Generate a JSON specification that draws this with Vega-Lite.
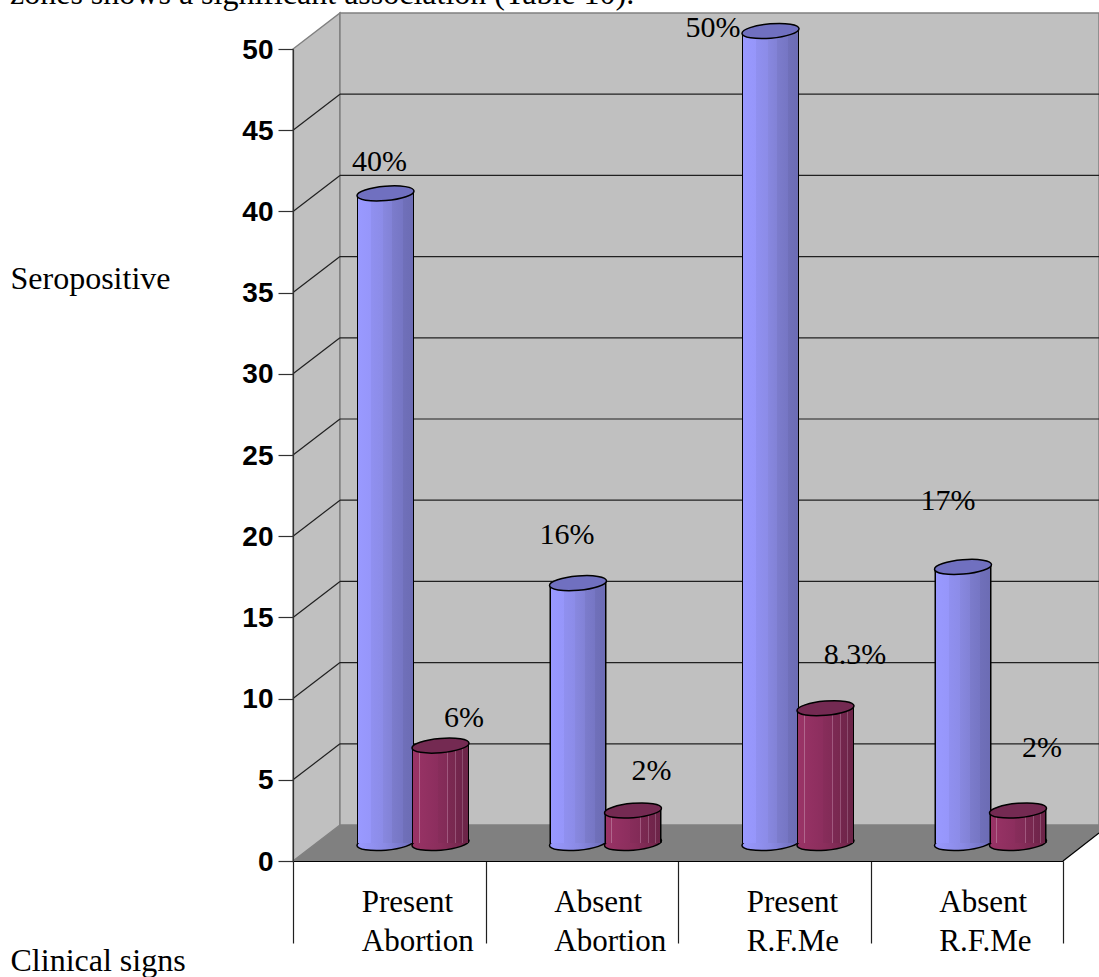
{
  "$schema": "https://vega.github.io/schema/vega-lite/v6.json",
  "autosize": "none",
  "padding": {"left": 293, "top": 49, "right": 36, "bottom": 116},
  "width": 770,
  "height": 812,
  "background": "white",
  "title": {
    "text": "zones shows a significant association (Table 10).",
    "anchor": "start",
    "frame": "group",
    "font": "Liberation Serif",
    "fontSize": 32,
    "fontWeight": "normal",
    "color": "black",
    "baseline": "alphabetic",
    "offset": 9,
    "dx": -283,
    "dy": 35
  },
  "datasets": {
    "rates": [
      {"sign": "Present Abortion", "series": "A", "value": 40, "label": "40%"},
      {"sign": "Present Abortion", "series": "B", "value": 6, "label": "6%"},
      {"sign": "Absent Abortion", "series": "A", "value": 16, "label": "16%"},
      {"sign": "Absent Abortion", "series": "B", "value": 2, "label": "2%"},
      {"sign": "Present R.F.Me", "series": "A", "value": 50, "label": "50%"},
      {"sign": "Present R.F.Me", "series": "B", "value": 8.3, "label": "8.3%"},
      {"sign": "Absent R.F.Me", "series": "A", "value": 17, "label": "17%"},
      {"sign": "Absent R.F.Me", "series": "B", "value": 2, "label": "2%"}
    ],
    "ticks": [{"t": 5}, {"t": 10}, {"t": 15}, {"t": 20}, {"t": 25}, {"t": 30}, {"t": 35}, {"t": 40}, {"t": 45}]
  },
  "layer": [
    {
      "layer": [
        {
          "data": {"values": [
            {"c": 0, "lo": 0, "hi": 50},
            {"c": 0.244, "lo": 2.217, "hi": 52.217}
          ]},
          "mark": {"type": "area", "fill": "#c0c0c0", "stroke": "#808080", "strokeWidth": 1.5},
          "encoding": {
            "x": {"field": "c", "type": "quantitative", "scale": {"domain": [0, 4], "nice": false, "zero": false}, "axis": null},
            "y": {
              "field": "lo",
              "type": "quantitative",
              "scale": {"domain": [0, 50], "nice": false},
              "axis": {
                "values": [0, 5, 10, 15, 20, 25, 30, 35, 40, 45, 50],
                "grid": false,
                "domain": true,
                "domainColor": "#303030",
                "domainWidth": 1.2,
                "tickColor": "#303030",
                "tickSize": 15,
                "tickWidth": 1.2,
                "labelFont": "Liberation Sans",
                "labelFontWeight": "bold",
                "labelFontSize": 28,
                "labelColor": "black",
                "labelPadding": 5,
                "labelOffset": 1,
                "title": "Seropositive",
                "titleFont": "Liberation Serif",
                "titleFontSize": 32,
                "titleFontWeight": "normal",
                "titleColor": "black",
                "titleAngle": 0,
                "titleAlign": "left",
                "titleBaseline": "alphabetic",
                "titleX": -283,
                "titleY": 239,
                "zindex": 1
              }
            },
            "y2": {"field": "hi"}
          }
        },
        {
          "data": {"values": [
            {"c": 0.244, "lo": 2.217, "hi": 52.217},
            {"c": 4.187, "lo": 2.217, "hi": 52.217}
          ]},
          "mark": {"type": "area", "fill": "#c0c0c0", "stroke": "#808080", "strokeWidth": 1.5},
          "encoding": {
            "x": {"field": "c", "type": "quantitative"},
            "y": {"field": "lo", "type": "quantitative"},
            "y2": {"field": "hi"}
          }
        },
        {
          "data": {"values": [
            {"c": 0, "lo": 0, "hi": 0},
            {"c": 0.244, "lo": 0, "hi": 2.217},
            {"c": 4, "lo": 0, "hi": 2.217},
            {"c": 4.187, "lo": 1.72, "hi": 2.217}
          ]},
          "mark": {"type": "area", "fill": "#808080"},
          "encoding": {
            "x": {"field": "c", "type": "quantitative"},
            "y": {"field": "lo", "type": "quantitative"},
            "y2": {"field": "hi"}
          }
        },
        {
          "data": {"name": "ticks"},
          "mark": {"type": "rule", "color": "#202020", "strokeWidth": 1.2, "yOffset": -36, "y2Offset": -36},
          "encoding": {
            "x": {"datum": 0.244, "type": "quantitative"},
            "x2": {"datum": 4.187},
            "y": {"field": "t", "type": "quantitative"},
            "y2": {"field": "t"}
          }
        },
        {
          "data": {"name": "ticks"},
          "mark": {"type": "rule", "color": "#202020", "strokeWidth": 1.2, "y2Offset": -36},
          "encoding": {
            "x": {"datum": 0, "type": "quantitative"},
            "x2": {"datum": 0.244},
            "y": {"field": "t", "type": "quantitative"},
            "y2": {"field": "t"}
          }
        },
        {
          "data": {"values": [{"a": 4, "b": 4.187, "lo": 0, "hi": 1.72}]},
          "mark": {"type": "rule", "color": "black", "strokeWidth": 1.2},
          "encoding": {
            "x": {"field": "a", "type": "quantitative"},
            "x2": {"field": "b"},
            "y": {"field": "lo", "type": "quantitative"},
            "y2": {"field": "hi"}
          }
        }
      ]
    },
    {
      "data": {"name": "rates"},
      "encoding": {
        "x": {
          "field": "sign",
          "type": "nominal",
          "sort": null,
          "scale": {"paddingInner": 0, "paddingOuter": 0},
          "axis": {
            "orient": "bottom",
            "labelAngle": 0,
            "labelExpr": "split(datum.label, ' ')",
            "labelFont": "Liberation Serif",
            "labelFontSize": 31,
            "labelColor": "black",
            "labelLineHeight": 39,
            "labelPadding": -56,
            "labelAlign": "left",
            "labelOffset": -28,
            "tickBand": "extent",
            "tickSize": 82,
            "tickColor": "#202020",
            "tickWidth": 1.2,
            "domainColor": "black",
            "domainWidth": 1.2,
            "grid": false,
            "title": "Clinical signs",
            "titleFont": "Liberation Serif",
            "titleFontSize": 32,
            "titleFontWeight": "normal",
            "titleColor": "black",
            "titleAnchor": "start",
            "titleAlign": "left",
            "titleBaseline": "alphabetic",
            "titleX": -283,
            "titleY": 109,
            "zindex": 1
          }
        },
        "xOffset": {
          "field": "series",
          "type": "nominal",
          "scale": {"type": "point", "padding": 0, "domain": ["A", "B"], "range": [92.5, 147.5]}
        },
        "y": {"field": "value", "type": "quantitative"}
      },
      "layer": [
        {
          "mark": {"type": "point", "filled": true, "opacity": 1, "size": 3249, "shape": "M-1,0.085A1,0.25 -5 1,1 1,-0.085A1,0.25 -5 1,1 -1,0.085Z", "stroke": "black", "strokeWidth": 1.5, "yOffset": -18},
          "encoding": {
            "y": {"datum": 0, "type": "quantitative"},
            "fill": {
              "condition": {"test": "datum.series === 'A'", "value": {"x1": 0, "x2": 1, "y1": 0, "y2": 0, "gradient": "linear", "stops": [{"offset": 0, "color": "#9999ff"}, {"offset": 0.5, "color": "#8a8ae4"}, {"offset": 1, "color": "#6c6cb8"}]}},
              "value": {"x1": 0, "x2": 1, "y1": 0, "y2": 0, "gradient": "linear", "stops": [{"offset": 0, "color": "#993366"}, {"offset": 0.5, "color": "#8a2e5c"}, {"offset": 1, "color": "#6e2549"}]}
            }
          }
        },
        {
          "mark": {"type": "bar", "width": 57, "yOffset": -20.4, "y2Offset": -18, "cornerRadiusTopLeft": 6},
          "encoding": {
            "y2": {"datum": 0},
            "fill": {
              "condition": {"test": "datum.series === 'A'", "value": {"x1": 0, "x2": 1, "y1": 0, "y2": 0, "gradient": "linear", "stops": [
                {"offset": 0, "color": "black"}, {"offset": 0.025, "color": "black"},
                {"offset": 0.025, "color": "#9999ff"}, {"offset": 0.25, "color": "#9696fa"},
                {"offset": 0.25, "color": "#9090f0"}, {"offset": 0.45, "color": "#8c8ce8"},
                {"offset": 0.45, "color": "#8888e0"}, {"offset": 0.62, "color": "#8282d6"},
                {"offset": 0.62, "color": "#7c7ccc"}, {"offset": 0.8, "color": "#7676c4"},
                {"offset": 0.8, "color": "#7070ba"}, {"offset": 0.975, "color": "#6c6cb4"},
                {"offset": 0.975, "color": "black"}, {"offset": 1, "color": "black"}
              ]}},
              "value": {"x1": 0, "x2": 1, "y1": 0, "y2": 0, "gradient": "linear", "stops": [
                {"offset": 0, "color": "black"}, {"offset": 0.025, "color": "black"},
                {"offset": 0.025, "color": "#993366"}, {"offset": 0.12, "color": "#983365"},
                {"offset": 0.12, "color": "#b0668c"}, {"offset": 0.135, "color": "#b0668c"},
                {"offset": 0.135, "color": "#963264"}, {"offset": 0.45, "color": "#8c2e5e"},
                {"offset": 0.45, "color": "#882d5b"}, {"offset": 0.62, "color": "#822b57"},
                {"offset": 0.62, "color": "#a0587e"}, {"offset": 0.635, "color": "#a0587e"},
                {"offset": 0.635, "color": "#7c2953"}, {"offset": 0.76, "color": "#78284f"},
                {"offset": 0.76, "color": "#955276"}, {"offset": 0.775, "color": "#955276"},
                {"offset": 0.775, "color": "#74264d"}, {"offset": 0.88, "color": "#70254b"},
                {"offset": 0.88, "color": "#8c4d6f"}, {"offset": 0.895, "color": "#8c4d6f"},
                {"offset": 0.895, "color": "#6e2549"}, {"offset": 0.975, "color": "#6c2448"},
                {"offset": 0.975, "color": "black"}, {"offset": 1, "color": "black"}
              ]}
            }
          }
        },
        {
          "mark": {"type": "point", "filled": true, "opacity": 1, "size": 3249, "shape": "M-1,0.085A1,0.25 -5 1,1 1,-0.085A1,0.25 -5 1,1 -1,0.085Z", "stroke": "black", "strokeWidth": 1.5, "yOffset": -18},
          "encoding": {
            "fill": {"field": "series", "type": "nominal", "legend": null, "scale": {"domain": ["A", "B"], "range": ["#7070c0", "#742a52"]}}
          }
        },
        {
          "transform": [{"filter": "datum.sign === 'Present Abortion' && datum.series === 'A'"}],
          "mark": {"type": "text", "font": "Liberation Serif", "fontSize": 30, "color": "black", "baseline": "middle", "dx": -6, "dy": -49},
          "encoding": {"text": {"field": "label"}}
        },
        {
          "transform": [{"filter": "datum.sign === 'Present Abortion' && datum.series === 'B'"}],
          "mark": {"type": "text", "font": "Liberation Serif", "fontSize": 30, "color": "black", "baseline": "middle", "dx": 23.5, "dy": -45.5},
          "encoding": {"text": {"field": "label"}}
        },
        {
          "transform": [{"filter": "datum.sign === 'Absent Abortion' && datum.series === 'A'"}],
          "mark": {"type": "text", "font": "Liberation Serif", "fontSize": 30, "color": "black", "baseline": "middle", "dx": -11, "dy": -66},
          "encoding": {"text": {"field": "label"}}
        },
        {
          "transform": [{"filter": "datum.sign === 'Absent Abortion' && datum.series === 'B'"}],
          "mark": {"type": "text", "font": "Liberation Serif", "fontSize": 30, "color": "black", "baseline": "middle", "dx": 18.5, "dy": -57.5},
          "encoding": {"text": {"field": "label"}}
        },
        {
          "transform": [{"filter": "datum.sign === 'Present R.F.Me' && datum.series === 'A'"}],
          "mark": {"type": "text", "font": "Liberation Serif", "fontSize": 30, "color": "black", "baseline": "middle", "dx": -57.5, "dy": -21},
          "encoding": {"text": {"field": "label"}}
        },
        {
          "transform": [{"filter": "datum.sign === 'Present R.F.Me' && datum.series === 'B'"}],
          "mark": {"type": "text", "font": "Liberation Serif", "fontSize": 30, "color": "black", "baseline": "middle", "dx": 29.5, "dy": -71},
          "encoding": {"text": {"field": "label"}}
        },
        {
          "transform": [{"filter": "datum.sign === 'Absent R.F.Me' && datum.series === 'A'"}],
          "mark": {"type": "text", "font": "Liberation Serif", "fontSize": 30, "color": "black", "baseline": "middle", "dx": -15, "dy": -84},
          "encoding": {"text": {"field": "label"}}
        },
        {
          "transform": [{"filter": "datum.sign === 'Absent R.F.Me' && datum.series === 'B'"}],
          "mark": {"type": "text", "font": "Liberation Serif", "fontSize": 30, "color": "black", "baseline": "middle", "dx": 24, "dy": -80.5},
          "encoding": {"text": {"field": "label"}}
        }
      ]
    }
  ],
  "resolve": {"scale": {"x": "independent"}},
  "config": {"view": {"stroke": null}}
}
